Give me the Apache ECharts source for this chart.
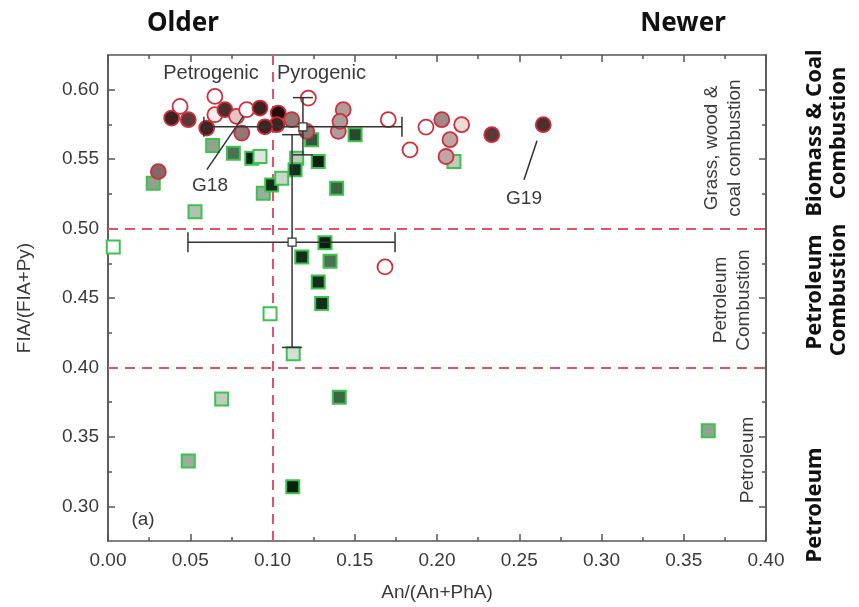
<!DOCTYPE html>
<html>
<head>
<meta charset="utf-8">
<script src="https://cdn.jsdelivr.net/npm/echarts@6/dist/echarts.min.js"></script>
<style>
html, body { margin: 0; padding: 0; background: #fff; }
#chart { width: 859px; height: 607px; }
</style>
</head>
<body>
<div id="chart"></div>
<script>
// circles (red outline), fill level: 0 = open ... 1 = darkest
var circleX = [0.0387, 0.0488, 0.0438, 0.0600, 0.0650, 0.0650, 0.0711, 0.0782, 0.0813, 0.0843,
    0.0924, 0.1035, 0.1026, 0.1117, 0.1218, 0.1208, 0.1400, 0.1430, 0.1410, 0.1704,
    0.1836, 0.1933, 0.2029, 0.2150, 0.2079, 0.2055, 0.2333, 0.2646, 0.1684, 0.0306, 0.0954];
var circleY = [0.5796, 0.5784, 0.5880, 0.5724, 0.5952, 0.5820, 0.5856, 0.5808, 0.5688, 0.5856,
    0.5868, 0.5832, 0.5748, 0.5784, 0.5940, 0.5700, 0.5700, 0.5856, 0.5772, 0.5784,
    0.5567, 0.5731, 0.5784, 0.5748, 0.5640, 0.5519, 0.5676, 0.5748, 0.4724, 0.5410, 0.5733];
var circleShade = [0.9, 0.8, 0, 0.9, 0, 0.1, 0.85, 0.3, 0.6, 0,
    0.9, 1, 0.9, 0.6, 0, 0.6, 0.5, 0.5, 0.5, 0,
    0, 0, 0.55, 0.2, 0.45, 0.45, 0.8, 0.85, 0, 0.65, 0.9];

// squares (green outline)
var squareX = [0.0636, 0.0762, 0.0874, 0.0924, 0.0275, 0.0529, 0.0944, 0.0995, 0.1056, 0.1147,
    0.1137, 0.1238, 0.1278, 0.1390, 0.1502, 0.2103, 0.0032, 0.1319, 0.1178, 0.1350,
    0.1278, 0.1299, 0.0985, 0.1126, 0.0691, 0.1406, 0.0488, 0.1123, 0.3649];
var squareY = [0.5598, 0.5543, 0.5507, 0.5519, 0.5327, 0.5121, 0.5254, 0.5314, 0.5363, 0.5507,
    0.5423, 0.5639, 0.5483, 0.5290, 0.5676, 0.5483, 0.4868, 0.4897, 0.4796, 0.4765,
    0.4616, 0.4460, 0.4387, 0.4098, 0.3773, 0.3785, 0.3327, 0.3140, 0.3544];
var squareShade = [0.5, 0.7, 1, 0.15, 0.5, 0.35, 0.45, 0.95, 0.25, 0.3,
    0.95, 0.8, 1, 0.75, 0.85, 0.3, 0, 1, 0.95, 0.7,
    0.95, 0.95, 0, 0.2, 0.3, 0.75, 0.45, 1, 0.5];

// mean +/- sd crosses
var errX = [0.1185, 0.1119];
var errY = [0.5733, 0.4902];
var errXLow = [0.0583, 0.0486];
var errXHigh = [0.1787, 0.1745];
var errYLow = [0.5531, 0.4144];
var errYHigh = [0.5943, 0.5676];

var yMajor = [0.30, 0.35, 0.40, 0.45, 0.50, 0.55, 0.60];
var yMinor = [0.325, 0.375, 0.425, 0.475, 0.525, 0.575];
var sourceLines = [0.40, 0.50];
var splitX = 0.10;

var axisColor = '#555';
var textColor = '#3a3a3a';
var labelFont = 'Liberation Sans';

function zip(xs, ys, zs) {
    var out = [];
    for (var i = 0; i < xs.length; i++) {
        out.push([xs[i], ys[i], zs[i]]);
    }
    return out;
}

var errData = [];
for (var i = 0; i < errX.length; i++) {
    errData.push([errX[i], errY[i], errXLow[i], errXHigh[i], errYLow[i], errYHigh[i]]);
}

function renderErr(params, api) {
    var c = api.coord([api.value(0), api.value(1)]);
    var l = api.coord([api.value(2), api.value(1)]);
    var r = api.coord([api.value(3), api.value(1)]);
    var b = api.coord([api.value(0), api.value(4)]);
    var t = api.coord([api.value(0), api.value(5)]);
    var cap = 10;
    var st = { stroke: '#333', lineWidth: 1.5 };
    var kids = [
        { type: 'line', shape: { x1: l[0], y1: l[1], x2: r[0], y2: r[1] }, style: st },
        { type: 'line', shape: { x1: b[0], y1: b[1], x2: t[0], y2: t[1] }, style: st },
        { type: 'line', shape: { x1: l[0], y1: l[1] - cap, x2: l[0], y2: l[1] + cap }, style: st },
        { type: 'line', shape: { x1: r[0], y1: r[1] - cap, x2: r[0], y2: r[1] + cap }, style: st },
        { type: 'line', shape: { x1: b[0] - cap, y1: b[1], x2: b[0] + cap, y2: b[1] }, style: st },
        { type: 'line', shape: { x1: t[0] - cap, y1: t[1], x2: t[0] + cap, y2: t[1] }, style: st },
        { type: 'rect', shape: { x: c[0] - 4, y: c[1] - 4, width: 8, height: 8 },
          style: { fill: '#fff', stroke: '#333', lineWidth: 1.2 } }
    ];
    return { type: 'group', children: kids };
}

function vtext(x, y, text, size, bold, color) {
    return {
        type: 'text', x: x, y: y, rotation: Math.PI / 2,
        style: {
            text: text, fill: color || textColor,
            font: (bold ? 'bold ' : '') + size + 'px ' + (bold ? '"Noto Sans"' : labelFont),
            textAlign: 'center', textVerticalAlign: 'middle'
        }
    };
}
function htext(x, y, text, size, bold, align) {
    return {
        type: 'text', x: x, y: y,
        style: {
            text: text, fill: bold ? '#111' : textColor,
            font: (bold ? 'bold ' : '') + size + 'px ' + (bold ? '"Noto Sans"' : labelFont),
            textAlign: align || 'center', textVerticalAlign: 'middle'
        }
    };
}

var chart = echarts.init(document.getElementById('chart'));

var yBase = {
    type: 'value', min: 0.275, max: 0.625, scale: true,
    splitLine: { show: false },
    axisLine: { show: true, lineStyle: { color: axisColor, width: 1.5 } }
};
function yAxisOf(pos, values, len, labels) {
    return Object.assign({}, yBase, {
        position: pos,
        name: labels ? 'FIA/(FIA+Py)' : '',
        nameLocation: 'middle', nameGap: 74,
        nameTextStyle: { fontFamily: labelFont, fontSize: 19, color: textColor },
        axisTick: { show: true, inside: true, length: len, customValues: values,
                    lineStyle: { color: axisColor, width: 1.5 } },
        axisLabel: { show: labels, customValues: values, margin: 9,
                     fontFamily: labelFont, fontSize: 19, color: textColor,
                     formatter: function (v) { return v.toFixed(2); } }
    });
}

var option = {
    backgroundColor: '#fff',
    animation: false,
    grid: { left: 108, right: 93, top: 55, bottom: 65 },
    xAxis: [{
        type: 'value', min: 0, max: 0.4, interval: 0.05,
        name: 'An/(An+PhA)', nameLocation: 'middle', nameGap: 42,
        nameTextStyle: { fontFamily: labelFont, fontSize: 19, color: textColor },
        splitLine: { show: false },
        axisLine: { lineStyle: { color: axisColor, width: 1.5 } },
        axisTick: { inside: true, length: 7, lineStyle: { color: axisColor, width: 1.5 } },
        minorTick: { show: true, splitNumber: 2, length: 4, lineStyle: { color: axisColor, width: 1.5 } },
        axisLabel: { margin: 10, fontFamily: labelFont, fontSize: 19, color: textColor,
                     formatter: function (v) { return v.toFixed(2); } }
    }, {
        type: 'value', min: 0, max: 0.4, interval: 0.05, position: 'top',
        splitLine: { show: false },
        axisLine: { lineStyle: { color: axisColor, width: 1.5 } },
        axisTick: { inside: true, length: 7, lineStyle: { color: axisColor, width: 1.5 } },
        minorTick: { show: true, splitNumber: 2, length: 4, lineStyle: { color: axisColor, width: 1.5 } },
        axisLabel: { show: false }
    }],
    yAxis: [
        yAxisOf('left', yMajor, 7, true),
        yAxisOf('left', yMinor, 4, false),
        yAxisOf('right', yMajor, 7, false),
        yAxisOf('right', yMinor, 4, false)
    ],
    visualMap: [{
        show: false, seriesIndex: 0, dimension: 2, min: 0, max: 1,
        inRange: { color: ['#ffffff', '#c9d6c9', '#8fa38f', '#3c6446', '#0a2010'] }
    }, {
        show: false, seriesIndex: 1, dimension: 2, min: 0, max: 1,
        inRange: { color: ['#ffffff', '#efcfcf', '#b09a9a', '#6a4545', '#240a0a'] }
    }],
    series: [{
        name: 'squares', type: 'scatter', symbol: 'rect', symbolSize: 13, z: 3,
        data: zip(squareX, squareY, squareShade),
        itemStyle: { borderColor: '#3fc150', borderWidth: 2, opacity: 1 },
        markLine: {
            silent: true, symbol: 'none', z: 2,
            label: { show: false },
            lineStyle: { color: '#e0546a', width: 2, type: [10, 7] },
            data: [{ yAxis: sourceLines[0] }, { yAxis: sourceLines[1] }, { xAxis: splitX }]
        }
    }, {
        name: 'circles', type: 'scatter', symbol: 'circle', symbolSize: 15, z: 4,
        data: zip(circleX, circleY, circleShade),
        itemStyle: { borderColor: '#cf2f3a', borderWidth: 1.8, opacity: 1 }
    }, {
        name: 'sd', type: 'custom', z: 6, renderItem: renderErr, data: errData
    }, {
        name: 'notes', type: 'scatter', data: [], z: 7,
        markLine: {
            silent: true, symbol: ['none', 'arrow'], symbolSize: [0, 9],
            label: { show: false },
            lineStyle: { color: '#333', width: 1.5, type: 'solid' },
            data: [
                [{ coord: [0.0601, 0.5424] }, { coord: [0.0822, 0.5808] }],
                [{ coord: [0.2529, 0.5351] }, { coord: [0.2608, 0.5632] }]
            ]
        }
    }],
    graphic: [
        htext(183, 24, 'Older', 26, true),
        htext(683, 24, 'Newer', 26, true),
        vtext(815, 133, 'Biomass & Coal', 22, true, '#111'),
        vtext(839, 133, 'Combustion', 22, true, '#111'),
        vtext(815, 292, 'Petroleum', 22, true, '#111'),
        vtext(839, 290, 'Combustion', 22, true, '#111'),
        vtext(815, 505, 'Petroleum', 22, true, '#111'),
        htext(211, 73, 'Petrogenic', 20, false),
        htext(277, 73, 'Pyrogenic', 20, false, 'left'),
        htext(210, 186, 'G18', 19, false),
        htext(524, 199, 'G19', 19, false),
        htext(143, 520, '(a)', 19, false),
        vtext(712, 148, 'Grass, wood &', 19, false),
        vtext(735, 148, 'coal combustion', 19, false),
        vtext(721, 300, 'Petroleum', 19, false),
        vtext(744, 300, 'Combustion', 19, false),
        vtext(748, 460, 'Petroleum', 19, false)
    ]
};

chart.setOption(option);
</script>
</body>
</html>
